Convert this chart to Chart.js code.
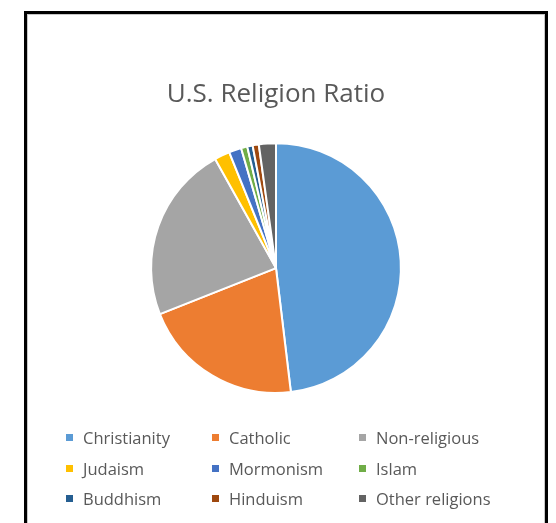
<!DOCTYPE html>
<html>
<head>
<meta charset="utf-8">
<script src="https://cdn.jsdelivr.net/npm/chart.js@4"></script>
<style>
  body { margin: 0; background: #fff; }
  #frame {
    position: absolute; left: 24px; top: 11px; width: 518px; height: 600px;
    border: 3px solid #000; box-shadow: inset 0 0 0 1px #c8c8c8;
  }
  #wrap { position: absolute; left: 0; top: 0; width: 556px; height: 523px; }
</style>
</head>
<body>
<div id="frame"></div>
<div id="wrap"><canvas id="c" width="556" height="523"></canvas></div>
<script>
var labels = ["Christianity", "Catholic", "Non-religious", "Judaism", "Mormonism", "Islam", "Buddhism", "Hinduism", "Other religions"];
var ratios = [48.1, 20.9, 22.9, 2.0, 1.6, 0.8, 0.7, 0.8, 2.2];
var colors = ["#5B9BD5", "#ED7D31", "#A5A5A5", "#FFC000", "#4472C4", "#70AD47", "#255E91", "#9E480E", "#636363"];

// legend drawn as a 3 column grid, like the office chart
var gridLegend = {
  id: "gridLegend",
  afterDraw: function (chart) {
    var ctx = chart.ctx;
    var colX = [66, 212, 359];
    var rowBase = [444, 475, 505];
    ctx.save();
    ctx.font = "16.5px 'Open Sans'";
    ctx.textBaseline = "alphabetic";
    ctx.textAlign = "left";
    for (var i = 0; i < labels.length; i++) {
      var x = colX[i % 3];
      var y = rowBase[Math.floor(i / 3)];
      ctx.fillStyle = colors[i];
      ctx.fillRect(x, y - 10, 7, 7);
      ctx.fillStyle = "#595959";
      ctx.fillText(labels[i], x + 17, y);
    }
    ctx.restore();
  }
};

new Chart(document.getElementById("c"), {
  type: "pie",
  data: {
    labels: labels,
    datasets: [{
      data: ratios,
      backgroundColor: colors,
      borderColor: "#ffffff",
      borderWidth: 2
    }]
  },
  options: {
    responsive: false,
    animation: false,
    layout: { padding: { left: 150, right: 154, top: 0, bottom: 129 } },
    plugins: {
      legend: { display: false },
      tooltip: { enabled: false },
      title: {
        display: true,
        text: "U.S. Religion Ratio",
        color: "#595959",
        font: { family: "'Open Sans'", size: 26, weight: "normal", lineHeight: 1.2 },
        padding: { top: 79, bottom: 32 }
      }
    }
  },
  plugins: [gridLegend]
});
</script>
</body>
</html>
